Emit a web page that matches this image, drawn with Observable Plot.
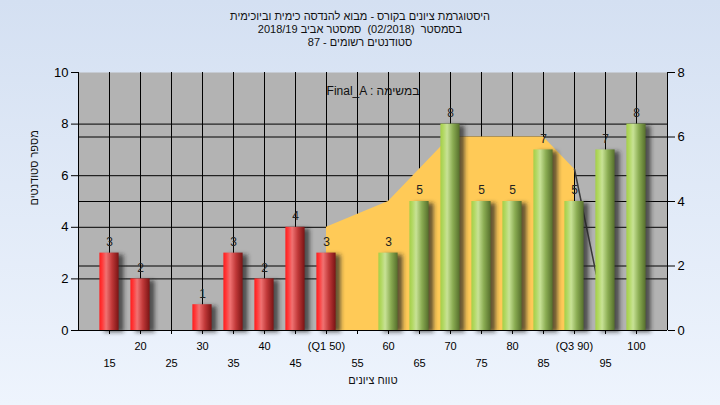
<!DOCTYPE html>
<html><head><meta charset="utf-8">
<script src="https://cdn.jsdelivr.net/npm/d3@7"></script>
<script src="https://cdn.jsdelivr.net/npm/@observablehq/plot@0.6"></script>
<style>
html,body{margin:0;padding:0;width:720px;height:405px;overflow:hidden}
body{background:linear-gradient(#d4e0f2,#eef4fd);font-family:"Liberation Sans","DejaVu Sans",Arial,sans-serif;position:relative}
#title{position:absolute;top:10px;left:0;width:720px;text-align:center;font-size:11px;line-height:13px;color:#111;direction:rtl;z-index:2;white-space:pre}
#chart{position:absolute;top:0;left:0}
</style>
</head><body>
<div id="title"></div>
<div id="chart"></div>
<script>
const titleLines = [
  "היסטוגרמת ציונים בקורס - מבוא להנדסה כימית וביוכימית",
  "בסמסטר  (02/2018)  סמסטר אביב 2018/19",
  "סטודנטים רשומים - 87"
];
const legendText = "Final_A : במשימה";
const yLabel = "מספר סטודנטים";
const xLabel = "טווח ציונים";

const grades = [15,20,25,30,35,40,45,50,55,60,65,70,75,80,85,90,95,100];
const counts = [3,2,0,1,3,2,4,3,0,3,5,8,5,5,7,5,7,8];
const passMark = 55;
const tickNames = {50: "(Q1 50)", 90: "(Q3 90)"};

// shaded inter-quartile band (right axis units)
const bandX = [50,60,70,85,90];
const bandY = [3.2,4,6,6,5];
// thin dark line after the band (right axis units)
const edgeX = [90,93.5];
const edgeY = [5,1.75];

const leftTicks = [0,2,4,6,8,10];
const rightTicks = [0,2,4,6,8];
const R = 10/8; // right axis -> left axis

document.getElementById("title").innerHTML = titleLines.map(t => `<div>${t}</div>`).join("");

const data = grades.map((g,i) => ({g, n: counts[i]})).filter(d => d.n > 0);
const red = data.filter(d => d.g < passMark);
const green = data.filter(d => d.g >= passMark);
const band = bandX.map((x,i) => ({x, r: bandY[i]}));
const edge = edgeX.map((x,i) => ({x, r: edgeY[i]}));
const half = 1.55;
const oddTicks = grades.filter(g => g % 10 !== 0);

const chart = Plot.plot({
  width: 720, height: 405,
  marginLeft: 78, marginRight: 53, marginTop: 72, marginBottom: 75,
  style: {background: "transparent", fontFamily: '"Liberation Sans","DejaVu Sans",Arial,sans-serif', fontSize: "11px", color: "#000"},
  x: {domain: [10,105], axis: null},
  y: {domain: [0,10], axis: null},
  marks: [
    Plot.frame({fill: "#b3b3b3", stroke: null}),
    Plot.ruleX(grades, {stroke: "#000", strokeWidth: 1}),
    Plot.ruleY([...leftTicks.slice(1,5), ...rightTicks.slice(1,4).map(d => d*R)], {stroke: "#000", strokeWidth: 1}),
    Plot.areaY(band, {x: "x", y: d => d.r*R, fill: "#ffca57"}),
    Plot.line(edge, {x: "x", y: d => d.r*R, stroke: "#3a3a3a", strokeWidth: 1.5}),
    Plot.rect(data, {x1: d => d.g-half, x2: d => d.g+half, y1: 0, y2: "n", fill: "#222", fillOpacity: 0.7, dx: 5, dy: 2}),
    Plot.rect(red, {x1: d => d.g-half, x2: d => d.g+half, y1: 0, y2: "n", fill: "url(#gRed)"}),
    Plot.rect(green, {x1: d => d.g-half, x2: d => d.g+half, y1: 0, y2: "n", fill: "url(#gGreen)"}),
    Plot.text(data, {x: "g", y: "n", text: d => String(d.n), dy: -11, fill: "#222", fontSize: 12}),
    Plot.text([legendText], {frameAnchor: "top", dy: 14, fontSize: 12, fill: "#111"}),
    Plot.ruleX([10], {stroke: "#000", y1: 0, y2: 10}),
    Plot.ruleX([105], {stroke: "#000", y1: 0, y2: 10}),
    Plot.ruleY([0], {stroke: "#000"}),
    Plot.axisY({anchor: "left", ticks: leftTicks, tickSize: 7, tickPadding: 3, fontSize: 13, label: null}),
    Plot.axisY({anchor: "right", ticks: rightTicks.map(d => d*R), tickFormat: d => String(Math.round(d/R)), tickSize: 7, tickPadding: 3, fontSize: 13, label: null}),
    Plot.axisX({ticks: grades, tickSize: 4, tickPadding: 8, tickFormat: d => d % 10 === 0 ? (tickNames[d] || String(d)) : "", fontSize: 11, label: null}),
    Plot.axisX({ticks: oddTicks, tickSize: 0, tickPadding: 29, tickFormat: d => String(d), fontSize: 11, label: null}),
    Plot.text([yLabel], {frameAnchor: "left", rotate: -90, dx: -44, dy: 4, fontSize: 11, fill: "#111"}),
    Plot.text([xLabel], {frameAnchor: "bottom", dy: 53, fontSize: 11, fill: "#111"})
  ]
});

const svg = d3.select(chart);
svg.insert("defs", ":first-child").html(`
  <linearGradient id="gRed" x1="0" x2="1" y1="0" y2="0">
    <stop offset="0" stop-color="#ff1c1c"/>
    <stop offset="0.15" stop-color="#ff3a3a"/>
    <stop offset="0.35" stop-color="#f07272"/>
    <stop offset="0.65" stop-color="#c03838"/>
    <stop offset="1" stop-color="#7a1414"/>
  </linearGradient>
  <linearGradient id="gGreen" x1="0" x2="1" y1="0" y2="0">
    <stop offset="0" stop-color="#a4cf48"/>
    <stop offset="0.15" stop-color="#b2d862"/>
    <stop offset="0.35" stop-color="#c8e296"/>
    <stop offset="0.65" stop-color="#8aac52"/>
    <stop offset="1" stop-color="#566f2c"/>
  </linearGradient>
  <filter id="blur" x="-50%" y="-10%" width="200%" height="120%">
    <feGaussianBlur stdDeviation="2"/>
  </filter>`);
const rectGroups = chart.querySelectorAll('g[aria-label="rect"]');
if (rectGroups.length) rectGroups[0].setAttribute("filter", "url(#blur)");
document.getElementById("chart").appendChild(chart);
</script>
</body></html>
